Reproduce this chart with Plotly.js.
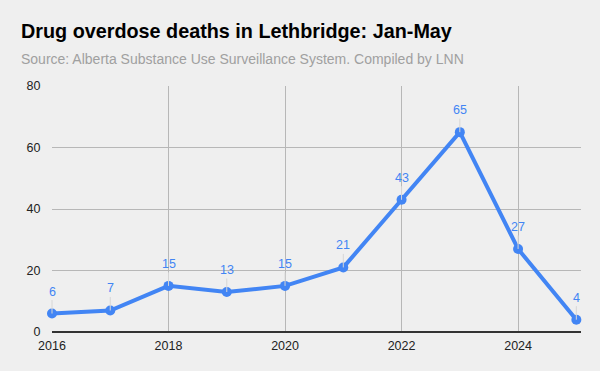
<!DOCTYPE html>
<html>
<head>
<meta charset="utf-8">
<script src="https://cdn.plot.ly/plotly-3.0.1.min.js"></script>
<style>html,body{margin:0;padding:0;background:#efefef;}#chart{width:600px;height:371px;}</style>
</head>
<body>
<div id="chart"></div>
<script>
const years = [2016, 2017, 2018, 2019, 2020, 2021, 2022, 2023, 2024, 2025];
const deaths = [6, 7, 15, 13, 15, 21, 43, 65, 27, 4];
const xTicks = [2016, 2018, 2020, 2022, 2024];
const yTicks = [0, 20, 40, 60, 80];
const titleText = "Drug overdose deaths in Lethbridge: Jan-May";
const subtitleText = "Source: Alberta Substance Use Surveillance System. Compiled by LNN";

const blue = "#4285F4";
const FONT = "Arial, 'Liberation Sans', sans-serif";

const labelAnns = years.map((y, i) => ({
  x: y, y: deaths[i], xref: "x", yref: "y",
  text: String(deaths[i]),
  showarrow: true, arrowhead: 0, arrowwidth: 1, arrowcolor: "#d6d6d6",
  ax: 0, ay: -22, standoff: 0,
  font: {family: FONT, size: 12.5, color: blue}
}));

const layout = {
  width: 600, height: 371,
  paper_bgcolor: "#efefef", plot_bgcolor: "#efefef",
  margin: {l: 52, r: 19, t: 86, b: 39},
  showlegend: false,
  font: {family: FONT, size: 12, color: "#222"},
  xaxis: {
    range: [2016, 2025.08], tickvals: xTicks, ticktext: xTicks.map(String),
    showgrid: true, gridcolor: "#b7b7b7", gridwidth: 1, zeroline: false,
    showline: false, ticks: "outside", ticklen: 2, tickcolor: "rgba(0,0,0,0)",
    tickfont: {family: FONT, size: 12.5, color: "#222"}
  },
  yaxis: {
    range: [0, 80], tickvals: yTicks,
    showgrid: true, gridcolor: "#b7b7b7", gridwidth: 1,
    zeroline: true, zerolinecolor: "#333", zerolinewidth: 1.5,
    showline: false, ticks: "outside", ticklen: 8, tickcolor: "rgba(0,0,0,0)",
    tickfont: {family: FONT, size: 12.5, color: "#222"}
  },
  annotations: [
    {xref: "paper", yref: "paper", x: -0.0624, y: 1.222, xanchor: "left", yanchor: "middle",
     text: "<b>" + titleText + "</b>", showarrow: false,
     font: {family: FONT, size: 19.8, color: "#000"}},
    {xref: "paper", yref: "paper", x: -0.0624, y: 1.11, xanchor: "left", yanchor: "middle",
     text: subtitleText, showarrow: false,
     font: {family: FONT, size: 14, color: "#a0a0a0"}}
  ].concat(labelAnns)
};

const trace = {
  x: years, y: deaths, type: "scatter", mode: "lines+markers",
  line: {color: blue, width: 4},
  marker: {color: blue, size: 10},
  cliponaxis: false, hoverinfo: "x+y"
};

Plotly.newPlot("chart", [trace], layout, {displayModeBar: false, staticPlot: true});
</script>
</body>
</html>
